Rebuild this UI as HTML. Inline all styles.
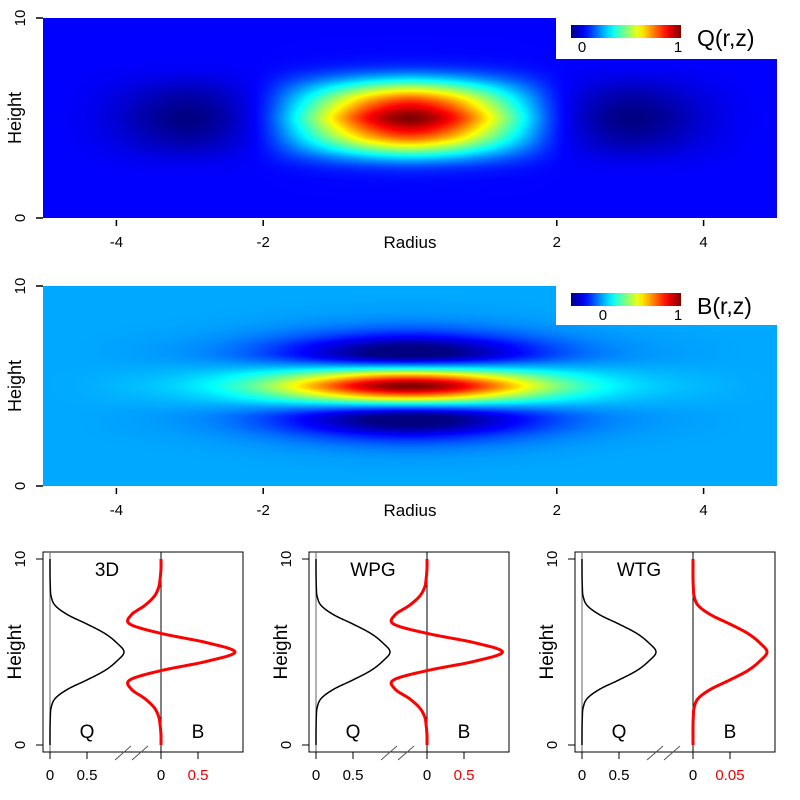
<!DOCTYPE html>
<html><head><meta charset="utf-8">
<style>
body{margin:0;background:#fff;}
#wrap{position:relative;width:800px;height:800px;overflow:hidden;font-family:"Liberation Sans",Arial,sans-serif;}
canvas{position:absolute;}
svg{position:absolute;left:0;top:0;}
</style></head>
<body>
<div id="wrap">
<canvas id="hmQ" width="734" height="200" style="left:43px;top:18px"></canvas>
<canvas id="hmB" width="734" height="200" style="left:43px;top:286px"></canvas>
<svg id="s" width="800" height="800"></svg>
</div>
<script>
// sample grid (radius -5..5 step 0.5, height 0..10 step 0.5)
const rSamples = [-5,-4.5,-4,-3.5,-3,-2.5,-2,-1.5,-1,-0.5,0,0.5,1,1.5,2,2.5,3,3.5,4,4.5,5];
const zSamples = [0,0.5,1,1.5,2,2.5,3,3.5,4,4.5,5,5.5,6,6.5,7,7.5,8,8.5,9,9.5,10];
// Q radial profile and vertical profile
const qRadial = [0,-0.01,-0.05,-0.11,-0.14,-0.09,0.04,0.32,0.62,0.88,1,0.88,0.62,0.32,0.04,-0.09,-0.14,-0.11,-0.05,-0.01,0];
const qVertical = [0,0,0.001,0.004,0.015,0.07,0.24,0.5,0.74,0.9,1,0.9,0.74,0.5,0.24,0.07,0.015,0.004,0.001,0,0];
// B radial profile and vertical profile (3D)
const bRadial = [0,0.005,0.02,0.04,0.08,0.16,0.3,0.5,0.72,0.92,1,0.92,0.72,0.5,0.3,0.16,0.08,0.04,0.02,0.005,0];
const bVertical3D = [0,0,-0.01,-0.03,-0.09,-0.22,-0.4,-0.42,0,0.62,1,0.62,0,-0.42,-0.4,-0.22,-0.09,-0.03,-0.01,0,0];
const bVerticalWPG = [0,0,-0.01,-0.03,-0.1,-0.24,-0.43,-0.45,0,0.64,1.02,0.64,0,-0.45,-0.43,-0.24,-0.1,-0.03,-0.01,0,0];
const bVerticalWTG = [0,0,0,0.0004,0.0015,0.007,0.024,0.05,0.074,0.09,0.1,0.09,0.074,0.05,0.024,0.007,0.0015,0.0004,0,0,0];
const panelNames = ["3D","WPG","WTG"];
const bTickLabels = ["0.5","0.5","0.05"];
const bTickValues = [0.5,0.5,0.05];
const radiusTicks = [-4,-2,2,4];

function interp(arr, xs, x){
  if(x<=xs[0]) return arr[0];
  if(x>=xs[xs.length-1]) return arr[arr.length-1];
  const h=xs[1]-xs[0]; const f=(x-xs[0])/h; const i=Math.floor(f); const t=f-i;
  const p0=arr[Math.max(i-1,0)],p1=arr[i],p2=arr[Math.min(i+1,arr.length-1)],p3=arr[Math.min(i+2,arr.length-1)];
  return 0.5*((2*p1)+(-p0+p2)*t+(2*p0-5*p1+4*p2-p3)*t*t+(-p0+3*p1-3*p2+p3)*t*t*t);
}
function jet(t){t=Math.max(0,Math.min(1,t));const c=v=>Math.round(255*Math.max(0,Math.min(1,v)));
  return [c(1.5-Math.abs(4*t-3)),c(1.5-Math.abs(4*t-2)),c(1.5-Math.abs(4*t-1))];}
function drawMap(id, rp, zp, vmin, vmax){
  const cv=document.getElementById(id),ctx=cv.getContext('2d'),W=cv.width,H=cv.height;
  const img=ctx.createImageData(W,H);
  const rv=[],zv=[];
  for(let i=0;i<W;i++) rv.push(interp(rp,rSamples,-5+10*(i+0.5)/W));
  for(let j=0;j<H;j++) zv.push(interp(zp,zSamples,10-10*(j+0.5)/H));
  for(let j=0;j<H;j++)for(let i=0;i<W;i++){const c=jet((rv[i]*zv[j]-vmin)/(vmax-vmin));const k=4*(j*W+i);
    img.data[k]=c[0];img.data[k+1]=c[1];img.data[k+2]=c[2];img.data[k+3]=255;}
  ctx.putImageData(img,0,0);
}
drawMap('hmQ',qRadial,qVertical,-0.143,1);
drawMap('hmB',bRadial,bVertical3D,-0.41,1);

const svg=document.getElementById('s'),NS="http://www.w3.org/2000/svg";
function el(tag,attrs,parent){const e=document.createElementNS(NS,tag);for(const k in attrs)e.setAttribute(k,attrs[k]);(parent||svg).appendChild(e);return e;}
function txt(x,y,s,size,attrs){const e=el('text',Object.assign({x:x,y:y,'font-size':size,'font-family':'Liberation Sans, Arial, sans-serif','text-anchor':'middle'},attrs||{}));e.textContent=s;return e;}

const defs=el('defs',{});const lg=el('linearGradient',{id:'jetg',x1:0,x2:1,y1:0,y2:0},defs);
for(let i=0;i<=20;i++){const c=jet(i/20);el('stop',{offset:i/20,'stop-color':`rgb(${c})`},lg);}

function mapAxes(top,name,zeroPos,vname){
  const rx=r=>410+r*73.4;
  const g=el('g',{});
  
  
  radiusTicks.forEach(r=>{
    const t=el('line',{x1:rx(r),x2:rx(r),y1:top+202,y2:top+208,stroke:'#000','stroke-width':1.5},g);
    
    
    const l=txt(rx(r),top+229,String(r),15,{});g.appendChild(l);
    
    
  });
  const xt=txt(410,top+230,'Radius',17,{});
  
  
  [[0,top+200],[10,top]].forEach(([v,y])=>{
    const t=el('line',{x1:36,x2:43,y1:y,y2:y,stroke:'#000','stroke-width':1.5},g);
    
    
    const l=txt(0,0,String(v),15,{transform:`translate(25,${y}) rotate(-90)`});
    
    
  });
  const yt=txt(0,0,'Height',18,{transform:`translate(21,${top+100}) rotate(-90)`});
  
  
  const box=el('rect',{x:556,y:top,width:221,height:name==='q-map'?41:39,fill:'#fff'});
  
  
  const cb=el('rect',{x:571,y:top+7,width:110,height:13,fill:'url(#jetg)'});
  
  
  const l0=txt(571+110*zeroPos,top+34,'0',15,{});
  
  
  const l1=txt(678,top+34,'1',15,{});
  
  
  const vt=txt(697,top+28,vname,23,{'text-anchor':'start'});
  
  
}
mapAxes(18,'q-map',0.1,'Q(r,z)');
mapAxes(286,'b-map',0.29,'B(r,z)');

const bVerticals=[bVertical3D,bVerticalWPG,bVerticalWTG];
function pathFrom(arr,x0,scale){
  let d='';for(let k=0;k<=200;k++){const z=10*k/200;const v=interp(arr,zSamples,z);
    d+=(k?'L':'M')+(x0+v*scale).toFixed(2)+','+(745-z*18.6).toFixed(2);}return d;}
for(let p=0;p<3;p++){
  const off=p*266;
  const qx0=50+off, bx0=161+off;
  const bscale=37/bTickValues[p];
  const g=el('g',{});
  
  
  const fr=el('rect',{x:43+off,y:552,width:200,height:200,fill:'none',stroke:'#000','stroke-width':1},g);
  
  
  el('line',{x1:qx0,x2:qx0,y1:552,y2:752,stroke:'#666','stroke-width':1},g);
  const zl=el('line',{x1:bx0,x2:bx0,y1:552,y2:752,stroke:'#000','stroke-width':1},g);
  
  
  const qp=el('path',{d:pathFrom(qVertical,qx0,74),fill:'none',stroke:'#000','stroke-width':1.5},g);
  
  
  const bp=el('path',{d:pathFrom(bVerticals[p],bx0,bscale),fill:'none',stroke:'#f00','stroke-width':3},g);
  
  
  const t1=txt(107+off,576,panelNames[p],19,{});g.appendChild(t1);
  
  
  const tq=txt(87+off,738,'Q',19,{});g.appendChild(tq);
  
  
  const tb=txt(198+off,738,'B',19,{});g.appendChild(tb);
  
  
  [[0,745],[10,559]].forEach(([v,y])=>{
    el('line',{x1:36+off,x2:43+off,y1:y,y2:y,stroke:'#000','stroke-width':1},g);
    const l=txt(0,0,String(v),15,{transform:`translate(${25+off},${y}) rotate(-90)`});g.appendChild(l);
    
    
  });
  const yt=txt(0,0,'Height',19,{transform:`translate(${21+off},652) rotate(-90)`});g.appendChild(yt);
  
  
  const xt=[[qx0,'0','#000'],[qx0+37,'0.5','#000'],[bx0,'0','#000'],[bx0+37,bTickLabels[p],'#e00']];
  xt.forEach(([x,s,c])=>{
    el('line',{x1:x,x2:x,y1:752,y2:759,stroke:'#000','stroke-width':1},g);
    const l=txt(x,780,s,15,{fill:c});g.appendChild(l);
    
    
  });
  el('line',{x1:43+off,x2:qx0+37,y1:752,y2:752,stroke:'#000','stroke-width':1},g);
  el('line',{x1:bx0,x2:243+off,y1:752,y2:752,stroke:'#000','stroke-width':1},g);
  const br=el('g',{stroke:'#555','stroke-width':1},g);
  
  
  el('line',{x1:115+off,y1:760,x2:131+off,y2:746},br);
  el('line',{x1:132+off,y1:760,x2:148+off,y2:746},br);
}
</script>
</body></html>
